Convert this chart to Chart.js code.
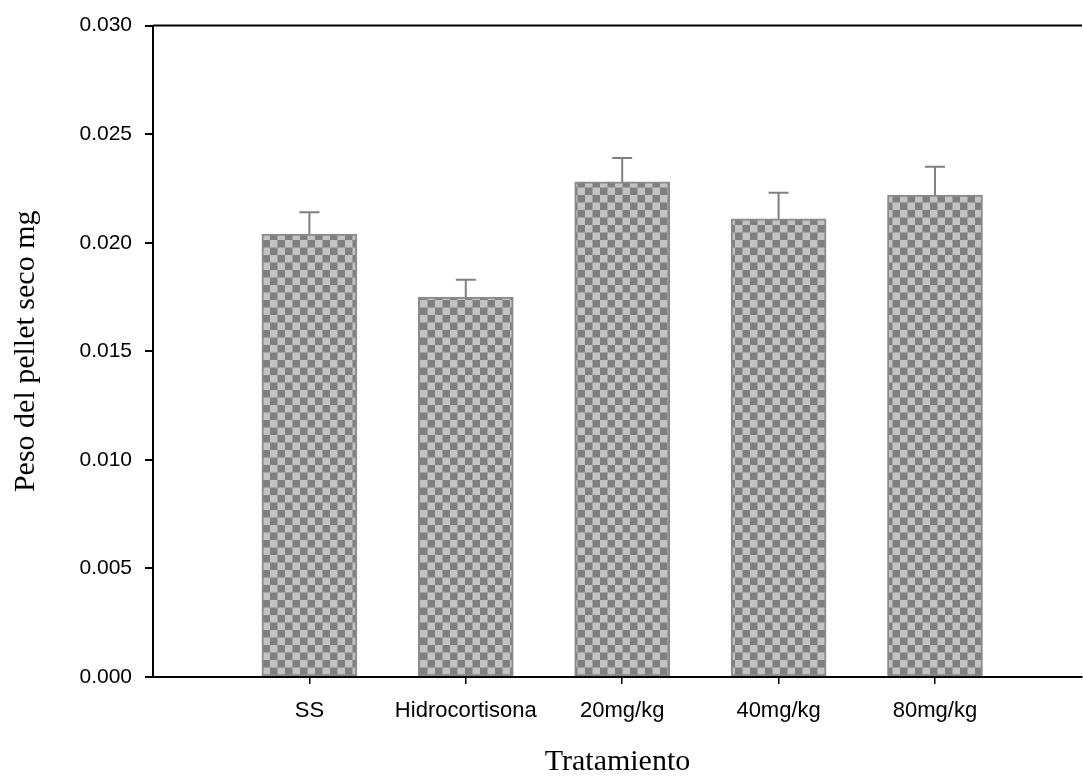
<!DOCTYPE html>
<html>
<head>
<meta charset="utf-8">
<script src="https://cdn.jsdelivr.net/npm/chart.js@4"></script>
<style>
html,body{margin:0;padding:0;background:#fff;}
#wrap{width:1083px;height:780px;position:relative;}
</style>
</head>
<body>
<div id="wrap"><canvas id="c" width="1083" height="780"></canvas></div>
<script>
const categories = ['SS', 'Hidrocortisona', '20mg/kg', '40mg/kg', '80mg/kg'];
const categoryIndex = [1, 2, 3, 4, 5];
const means = [0.0204, 0.0175, 0.0228, 0.0211, 0.0222];
const errors = [0.0010, 0.0008, 0.0011, 0.0012, 0.0013];
const yTicks = [0.000, 0.005, 0.010, 0.015, 0.020, 0.025, 0.030];

// checkerboard fill
const pc = document.createElement('canvas');
pc.width = 15; pc.height = 15;
const pctx = pc.getContext('2d');
pctx.fillStyle = '#7f7f7f';
pctx.fillRect(0, 0, 15, 15);
pctx.fillStyle = '#c3c3c3';
pctx.fillRect(0, 0, 7.5, 7.5);
pctx.fillRect(7.5, 7.5, 7.5, 7.5);
const ctx = document.getElementById('c').getContext('2d');
const pattern = ctx.createPattern(pc, 'repeat');

const errorBars = {
  id: 'errorBars',
  afterDatasetsDraw(chart) {
    const xs = chart.scales.x, ys = chart.scales.y, c = chart.ctx;
    c.save();
    c.strokeStyle = '#808080';
    c.lineWidth = 2;
    categoryIndex.forEach((xi, i) => {
      const x = xs.getPixelForValue(xi);
      const y0 = ys.getPixelForValue(means[i]);
      const y1 = ys.getPixelForValue(means[i] + errors[i]);
      c.beginPath();
      c.moveTo(x, y0); c.lineTo(x, y1);
      c.moveTo(x - 10, y1); c.lineTo(x + 10, y1);
      c.stroke();
    });
    c.restore();
  }
};

const topFrame = {
  id: 'topFrame',
  afterDraw(chart) {
    const a = chart.chartArea, c = chart.ctx;
    c.save();
    c.strokeStyle = '#000';
    c.lineWidth = 2;
    c.beginPath();
    c.moveTo(a.left, a.top); c.lineTo(a.right, a.top);
    c.stroke();
    c.restore();
  }
};

new Chart(ctx, {
  type: 'bar',
  data: {
    datasets: [{
      data: categoryIndex.map((x, i) => ({x: x, y: means[i]})),
      backgroundColor: pattern,
      borderColor: '#8a8a8a',
      borderWidth: 2,
      borderSkipped: false,
      barThickness: 95
    }]
  },
  options: {
    responsive: false,
    animation: false,
    devicePixelRatio: 1,
    layout: {padding: {left: 0, right: 1, top: 23, bottom: 0}},
    plugins: {legend: {display: false}, tooltip: {enabled: false}},
    scales: {
      x: {
        type: 'linear',
        offset: false,
        min: 0,
        max: 5.94,
        afterBuildTicks(s) { s.ticks = categoryIndex.map(v => ({value: v})); },
        afterFit(s) { s.height = 103; },
        ticks: {
          autoSkip: false,
          maxRotation: 0,
          padding: 14,
          color: '#000',
          font: {family: 'Liberation Sans', size: 22},
          callback: (v) => categories[categoryIndex.indexOf(v)]
        },
        grid: {offset: false, drawOnChartArea: false, drawTicks: true, tickLength: 7, color: '#000', lineWidth: 1.5},
        border: {display: true, color: '#000', width: 2},
        title: {
          display: true,
          text: 'Tratamiento',
          color: '#000',
          font: {family: 'Liberation Serif', size: 30},
          padding: {top: 0, bottom: 0}
        }
      },
      y: {
        min: 0,
        max: 0.03,
        afterBuildTicks(s) { s.ticks = yTicks.map(v => ({value: v})); },
        afterFit(s) { s.width = 153; },
        ticks: {
          padding: 13,
          color: '#000',
          font: {family: 'Liberation Sans', size: 21},
          callback: (v) => v.toFixed(3)
        },
        grid: {drawOnChartArea: false, drawTicks: true, tickLength: 8, color: '#000', lineWidth: 2},
        border: {display: true, color: '#000', width: 2},
        title: {
          display: true,
          text: 'Peso del pellet seco mg',
          color: '#000',
          font: {family: 'Liberation Serif', size: 30},
          padding: {top: 8, bottom: 0}
        }
      }
    }
  },
  plugins: [errorBars, topFrame]
});
</script>
</body>
</html>
